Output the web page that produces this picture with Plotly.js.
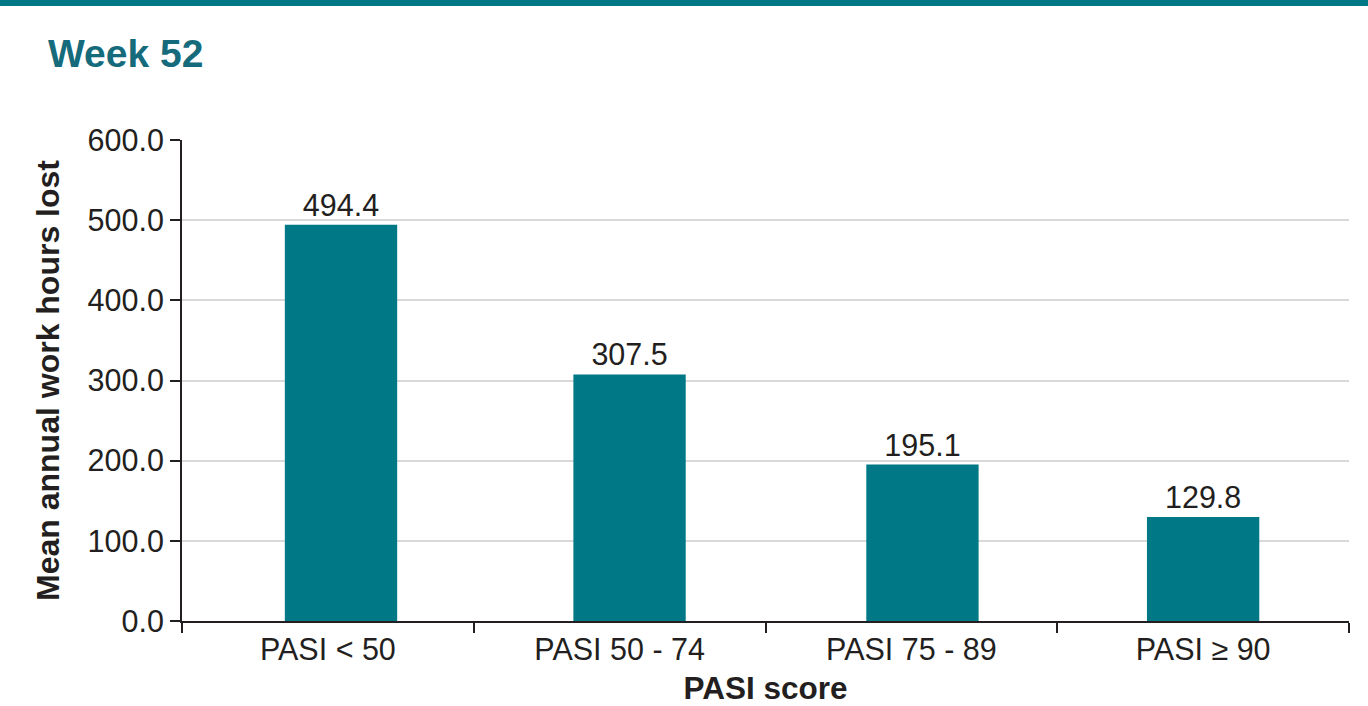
<!DOCTYPE html>
<html>
<head>
<meta charset="utf-8">
<script src="https://cdn.plot.ly/plotly-3.0.1.min.js"></script>
<style>html,body{margin:0;padding:0;background:#fff;}#chart{width:1368px;height:706px;}</style>
</head>
<body>
<div id="chart"></div>
<script>
const categories = ["PASI < 50", "PASI 50 - 74", "PASI 75 - 89", "PASI \u2265 90"];
const hoursLost = [494.4, 307.5, 195.1, 129.8];
const yTickValues = [0, 100, 200, 300, 400, 500, 600];

const teal = "#017886";
const dark = "#231f20";
const fontFamily = "Liberation Sans, Arial, Helvetica, sans-serif";

const barWidth = 0.385;
// small horizontal nudges of the bars within their category slots (styling, as in the source)
const barNudge = [0.045, 0.034, 0.038, 0.0];

const trace = {
  type: "bar",
  x: categories,
  y: hoursLost,
  width: barWidth,
  offset: barNudge.map(n => -barWidth / 2 + n),
  marker: {color: teal, line: {width: 0}},
  text: hoursLost.map(v => v.toFixed(1)),
  textposition: "outside",
  cliponaxis: false,
  textfont: {family: fontFamily, size: 30.5, color: dark},
  hoverinfo: "x+y"
};

const layout = {
  width: 1368,
  height: 706,
  margin: {l: 182, r: 19, t: 140, b: 85},
  paper_bgcolor: "#ffffff",
  plot_bgcolor: "#ffffff",
  showlegend: false,
  font: {family: fontFamily, color: dark, size: 30.5},
  title: {
    text: "<b>Week 52</b>",
    font: {family: fontFamily, size: 39, color: "#156b7b"},
    xref: "container", x: 48 / 1368, xanchor: "left",
    yref: "container", y: 1 - 53 / 706, yanchor: "middle"
  },
  xaxis: {
    type: "category",
    tickson: "boundaries",
    ticks: "outside",
    ticklen: 10,
    tickwidth: 2,
    tickcolor: dark,
    showline: true,
    linecolor: dark,
    linewidth: 2,
    showgrid: false,
    tickfont: {family: fontFamily, size: 30.5, color: dark},
    title: {text: "<b>PASI score</b>", font: {family: fontFamily, size: 31.5, color: dark}, standoff: 12},
    automargin: false
  },
  yaxis: {
    range: [0, 600],
    tickmode: "array",
    tickvals: yTickValues,
    ticktext: yTickValues.map(v => v.toFixed(1)),
    ticks: "outside",
    ticklen: 10,
    tickwidth: 2,
    tickcolor: dark,
    showline: true,
    linecolor: dark,
    linewidth: 2,
    showgrid: true,
    gridcolor: "#d9d9d9",
    gridwidth: 2,
    zeroline: false,
    tickfont: {family: fontFamily, size: 30.5, color: dark},
    title: {text: "<b>Mean annual work hours lost</b>", font: {family: fontFamily, size: 32, color: dark}, standoff: 18},
    automargin: false
  },
  shapes: [{
    type: "rect", xref: "paper", yref: "paper",
    x0: -182 / 1167, x1: 1 + 19 / 1167,
    y0: 1 + 134 / 481, y1: 1 + 142 / 481,
    fillcolor: teal, line: {width: 0}, layer: "above"
  }]
};

Plotly.newPlot("chart", [trace], layout, {displayModeBar: false, staticPlot: true});
</script>
</body>
</html>
